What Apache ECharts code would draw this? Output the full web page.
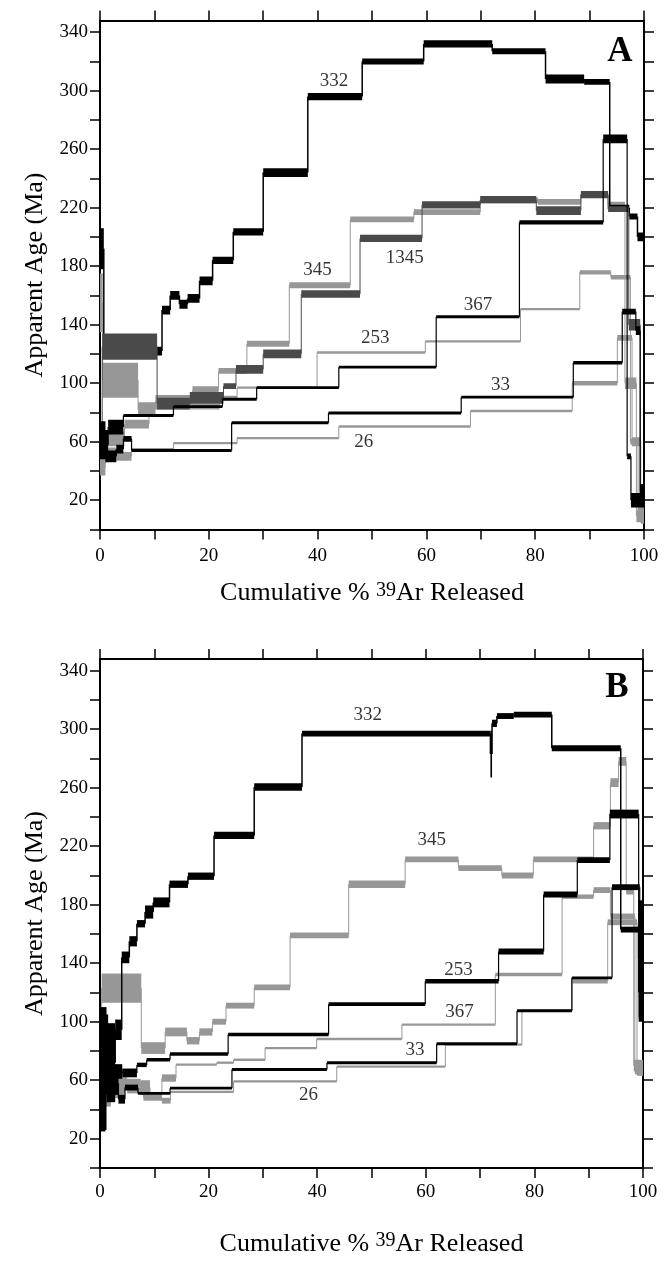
<!DOCTYPE html>
<html>
<head>
<meta charset="utf-8">
<script src="https://cdn.jsdelivr.net/npm/echarts@6/dist/echarts.min.js"></script>
<style>
html, body { margin: 0; padding: 0; background: #fff; }
#chart { width: 672px; height: 1261px; }
</style>
</head>
<body>
<div id="chart"></div>
<script>
// tick labels
const cumLabels = [0, 20, 40, 60, 80, 100]
const cumTicks = [0, 10, 20, 30, 40, 50, 60, 70, 80, 90, 100]
const ageLabels = [20, 60, 100, 140, 180, 220, 260, 300, 340]
const ageTicks = [0, 20, 40, 60, 80, 100, 120, 140, 160, 180, 200, 220, 240, 260, 280, 300, 320, 340]

// ---- panel A : step boundaries (cumulative %), apparent age (Ma), half height ----
const a332Cum = [0, 0.7, 11.4, 12.9, 14.6, 16.1, 18.3, 20.7, 24.5, 30, 38.2, 48.2, 59.5, 72.1, 81.9, 89, 93.7, 97.3, 98.8, 100]
const a332Age = [192, 122, 150, 160, 154, 158, 170, 184, 203.5, 244, 296, 320, 332, 327, 308, 306, 220, 214, 200]
const a332Err = [14, 3, 3, 3, 3, 3, 3, 2.5, 2.5, 3, 2.5, 2, 2.5, 2, 3, 2, 2, 2, 3]

const a1345Cum = [0, 0.4, 10.5, 16.5, 22.7, 25, 30, 37, 47.8, 59.2, 69.9, 80.2, 88.4, 93.4, 97.2, 99.3, 100]
const a1345Age = [62, 125, 86, 90, 98, 109.5, 120, 161, 199, 222, 225.5, 218, 229, 219, 140, 26]
const a1345Err = [10, 9, 4, 4, 2, 3, 3, 2.5, 2.5, 2.5, 2.5, 3, 2.5, 2, 4, 5]

const a345Cum = [0, 0.5, 7, 10.2, 17, 21.8, 27, 34.8, 46, 57.7, 69.9, 80.5, 88.4, 93.4, 96.5, 98.6, 100]
const a345Age = [155, 102, 82, 88, 95, 108.5, 127, 167, 212, 217, 225, 224, 229, 222, 100, 9]
const a345Err = [20, 12, 5, 4, 3, 2, 2, 2, 2, 2, 2, 2, 2, 2, 4, 4]

const a367Cum = [0, 1.5, 4.3, 13.5, 22.5, 28.8, 43.9, 61.8, 77.1, 92.5, 96.9, 97.6, 100]
const a367Age = [58, 70, 78, 84, 89, 97, 111, 145.5, 210, 267, 50, 20]
const a367Err = [10, 5, 1, 1, 1, 1, 1, 1, 1.5, 3, 2, 5]

const a253Cum = [0, 1, 4.5, 9, 22, 25.2, 39.9, 59.8, 77.3, 88.2, 93.9, 97.5, 98.9, 100]
const a253Age = [52, 62, 72, 84, 90, 97, 121, 128.6, 150.7, 175.8, 172.5, 60, 12]
const a253Err = [10, 5, 3, 2, 1.5, 0.8, 0.8, 0.8, 0.8, 1.5, 1.5, 2, 4]

const a33Cum = [0, 1, 3, 4.3, 5.8, 24.2, 42, 66.4, 87, 96, 98.5, 99.3, 100]
const a33Age = [62, 50, 55, 62, 54, 73, 79.6, 90.5, 114, 149, 136, 25]
const a33Err = [12, 4, 3, 2, 1, 1, 1, 1, 1.2, 2, 3, 6]

const a26Cum = [0, 1, 3, 5.8, 13.5, 25.2, 43.9, 68.1, 86.8, 95.1, 97.8, 99.4, 100]
const a26Age = [45, 52, 50, 55, 59, 62.5, 70.4, 81, 100, 131, 60, 8]
const a26Err = [8, 4, 3, 0.8, 0.8, 0.8, 0.8, 0.8, 1.5, 2, 3, 4]

// ---- panel B ----
const b332Cum = [0, 1.2, 2.8, 4.0, 5.4, 6.8, 8.3, 9.8, 12.8, 16.2, 21, 28.4, 37.2, 71.9, 72.2, 73.1, 76.2, 83.2, 95.9, 99.2, 100]
const b332Age = [68, 72, 94.5, 144, 155, 167, 175, 181.6, 194, 199.5, 227.4, 260.5, 297, 283, 304, 309, 310, 287, 163, 143]
const b332Err = [42, 27, 7, 4, 3.5, 2.5, 4.5, 3.4, 2.5, 2.5, 2.5, 2.5, 2, 16, 2.5, 2, 2, 2, 2, 40]

const b345Cum = [0, 0.3, 7.6, 12, 16, 18.3, 20.7, 23.2, 28.4, 35, 45.8, 56.2, 66, 74, 79.8, 90.9, 94, 95.5, 96.9, 98.3, 100]
const b345Age = [100, 123, 82, 93, 87, 93, 100, 111, 123.5, 159, 194, 211, 205, 200, 211, 234, 263.5, 278, 190, 70]
const b345Err = [10, 10, 4, 3, 2.5, 2.5, 2, 2, 2, 2, 2.5, 2, 2, 2, 2, 2.5, 3, 3, 3, 4]

const b253Cum = [0, 1.5, 4.1, 6.8, 8.6, 12.9, 23.6, 42.1, 59.9, 73.4, 81.7, 87.9, 93.9, 99.2, 100]
const b253Age = [85, 66, 65, 70.5, 74, 78, 91.3, 112, 127.7, 148, 187, 210.5, 242, 120]
const b253Err = [20, 5, 3, 1.5, 1.2, 1.2, 1.2, 1.3, 1.5, 2, 2, 2, 3, 20]

const b367Cum = [0, 2, 4.5, 7.5, 9.2, 11.4, 14, 21.5, 24.6, 30.4, 39.9, 55.6, 72.8, 85.1, 90.9, 94, 98.5, 100]
const b367Age = [55, 52, 58, 55, 50, 61.5, 70.7, 72, 74, 82, 88.2, 98, 132.3, 185.5, 190, 172, 68]
const b367Err = [10, 4, 3, 5, 2, 2.5, 0.8, 0.8, 0.8, 0.8, 0.8, 0.8, 1.2, 1.5, 2, 2, 4]

const b33Cum = [0, 1, 3.4, 4.6, 7, 12.9, 24.3, 41.8, 62, 76.8, 86.9, 94.3, 99.4, 100]
const b33Age = [45, 58, 47, 55, 51, 54.6, 67.3, 72, 85, 107.5, 130, 192, 130]
const b33Err = [20, 8, 3, 2, 1, 1, 1, 1, 1, 1, 1, 2, 10]

const b26Cum = [0, 2, 5, 8, 11.4, 13, 24.6, 43.6, 63.6, 77.7, 86.9, 93.5, 98.9, 100]
const b26Age = [50, 58, 53, 48, 46, 52, 59.2, 69.3, 84.4, 107.5, 127.7, 168, 67]
const b26Err = [8, 4, 2, 2, 2, 0.8, 0.8, 0.8, 0.8, 0.8, 1.5, 2, 4]

// sample labels (cumulative %, age)
const aLabelNames = ['332', '345', '1345', '367', '253', '33', '26']
const aLabelX = [43.0, 40.0, 56.0, 69.5, 50.6, 73.6, 48.5]
const aLabelY = [306.4, 177.5, 185.7, 153.2, 131, 99, 59.6]
const bLabelNames = ['332', '345', '253', '367', '33', '26']
const bLabelX = [49.3, 61.1, 66.0, 66.2, 58.0, 38.4]
const bLabelY = [309.4, 223.9, 135.7, 106.4, 80.8, 49.8]

const BLACK = '#000'
const GRAY = '#979797'
const DARK = '#4a4a4a'
const FONT = '"Liberation Serif", "Times New Roman", serif'

// step data: [x0, x1, age, err, previous age]
const buildSteps = (cum, age, err) => {
  const out = []
  for (let i = 0; i < age.length; i++) {
    out.push([cum[i], cum[i + 1], age[i], err[i], i > 0 ? age[i - 1] : age[i]])
  }
  return out
}

const stepRender = (color, lw) => (params, api) => {
  const x0 = api.value(0)
  const x1 = api.value(1)
  const a = api.value(2)
  const e = api.value(3)
  const p = api.value(4)
  const tl = api.coord([x0, a + e])
  const br = api.coord([x1, a - e])
  let y = tl[1]
  let h = br[1] - tl[1]
  if (h < 2) { y -= (2 - h) / 2; h = 2 }
  const c0 = api.coord([x0, p])
  const c1 = api.coord([x0, a])
  return {
    type: 'group',
    children: [
      { type: 'rect', shape: { x: tl[0], y: y, width: Math.max(br[0] - tl[0], 1), height: h }, style: { fill: color } },
      { type: 'line', shape: { x1: c0[0], y1: c0[1], x2: c1[0], y2: c1[1] }, style: { stroke: color, lineWidth: lw } }
    ]
  }
}

const spectrum = (name, cum, age, err, color, lw, panel) => ({
  type: 'custom',
  name: name,
  xAxisIndex: panel * 2,
  yAxisIndex: panel * 2,
  renderItem: stepRender(color, lw),
  data: buildSteps(cum, age, err),
  encode: { x: [0, 1], y: [2] },
  clip: true,
  silent: true
})

const labelSeries = (names, xs, ys, panel) => ({
  type: 'scatter',
  xAxisIndex: panel * 2,
  yAxisIndex: panel * 2,
  symbolSize: 1,
  itemStyle: { color: 'rgba(0,0,0,0)' },
  silent: true,
  data: names.map((n, i) => ({ name: n, value: [xs[i], ys[i]] })),
  label: { show: true, position: 'inside', formatter: '{b}', fontFamily: FONT, fontSize: 19, color: '#000' }
})

const axisLine = { show: true, onZero: false, lineStyle: { color: '#000', width: 2 } }
const axisTick = (vals) => ({ show: true, length: 10, customValues: vals, lineStyle: { color: '#000', width: 1.5 } })
const nameStyle = {
  fontFamily: FONT, fontSize: 26, color: '#000',
  rich: { sup: { fontFamily: FONT, fontSize: 20, color: '#000', verticalAlign: 'top' } }
}

const xAxes = (grid, margin, gap) => ([
  {
    type: 'value', gridIndex: grid, min: 0, max: 100, position: 'bottom',
    axisLine, axisTick: axisTick(cumTicks), splitLine: { show: false },
    axisLabel: { customValues: cumLabels, fontFamily: FONT, fontSize: 19, color: '#000', margin: margin },
    name: 'Cumulative % {sup|39}Ar Released', nameLocation: 'middle', nameGap: gap, nameTextStyle: nameStyle
  },
  {
    type: 'value', gridIndex: grid, min: 0, max: 100, position: 'top',
    axisLine, axisTick: axisTick(cumTicks), splitLine: { show: false }, axisLabel: { show: false }
  }
])

const yAxes = (grid) => ([
  {
    type: 'value', gridIndex: grid, min: 0, max: 348, position: 'left',
    axisLine, axisTick: axisTick(ageTicks), splitLine: { show: false },
    axisLabel: { customValues: ageLabels, fontFamily: FONT, fontSize: 19, color: '#000', margin: 12 },
    name: 'Apparent Age (Ma)', nameLocation: 'middle', nameRotate: 90, nameGap: 43, nameTextStyle: nameStyle
  },
  {
    type: 'value', gridIndex: grid, min: 0, max: 348, position: 'right',
    axisLine, axisTick: axisTick(ageTicks), splitLine: { show: false }, axisLabel: { show: false }
  }
])

const chart = echarts.init(document.getElementById('chart'), null, { renderer: 'canvas' })

chart.setOption({
  animation: false,
  backgroundColor: '#fff',
  grid: [
    { left: 100, top: 20.5, width: 544, height: 509 },
    { left: 100, top: 659, width: 543, height: 509 }
  ],
  xAxis: [...xAxes(0, 17, 51), ...xAxes(1, 15, 63)],
  yAxis: [...yAxes(0), ...yAxes(1)],
  graphic: [
    { type: 'text', x: 620, y: 52, style: { text: 'A', font: 'bold 35px "Liberation Serif"', fill: '#000', align: 'center', verticalAlign: 'middle' } },
    { type: 'text', x: 617, y: 688, style: { text: 'B', font: 'bold 35px "Liberation Serif"', fill: '#000', align: 'center', verticalAlign: 'middle' } }
  ],
  series: [
    spectrum('26', a26Cum, a26Age, a26Err, GRAY, 1, 0),
    spectrum('253', a253Cum, a253Age, a253Err, GRAY, 1, 0),
    spectrum('345', a345Cum, a345Age, a345Err, GRAY, 1, 0),
    spectrum('332', a332Cum, a332Age, a332Err, BLACK, 1.5, 0),
    spectrum('1345', a1345Cum, a1345Age, a1345Err, DARK, 1, 0),
    spectrum('33', a33Cum, a33Age, a33Err, BLACK, 1.2, 0),
    spectrum('367', a367Cum, a367Age, a367Err, BLACK, 1.2, 0),
    labelSeries(aLabelNames, aLabelX, aLabelY, 0),

    spectrum('26', b26Cum, b26Age, b26Err, GRAY, 1, 1),
    spectrum('367', b367Cum, b367Age, b367Err, GRAY, 1, 1),
    spectrum('345', b345Cum, b345Age, b345Err, GRAY, 1, 1),
    spectrum('33', b33Cum, b33Age, b33Err, BLACK, 1.2, 1),
    spectrum('253', b253Cum, b253Age, b253Err, BLACK, 1.2, 1),
    spectrum('332', b332Cum, b332Age, b332Err, BLACK, 1.5, 1),
    labelSeries(bLabelNames, bLabelX, bLabelY, 1)
  ]
})

window.addEventListener('resize', () => chart.resize())
</script>
</body>
</html>
